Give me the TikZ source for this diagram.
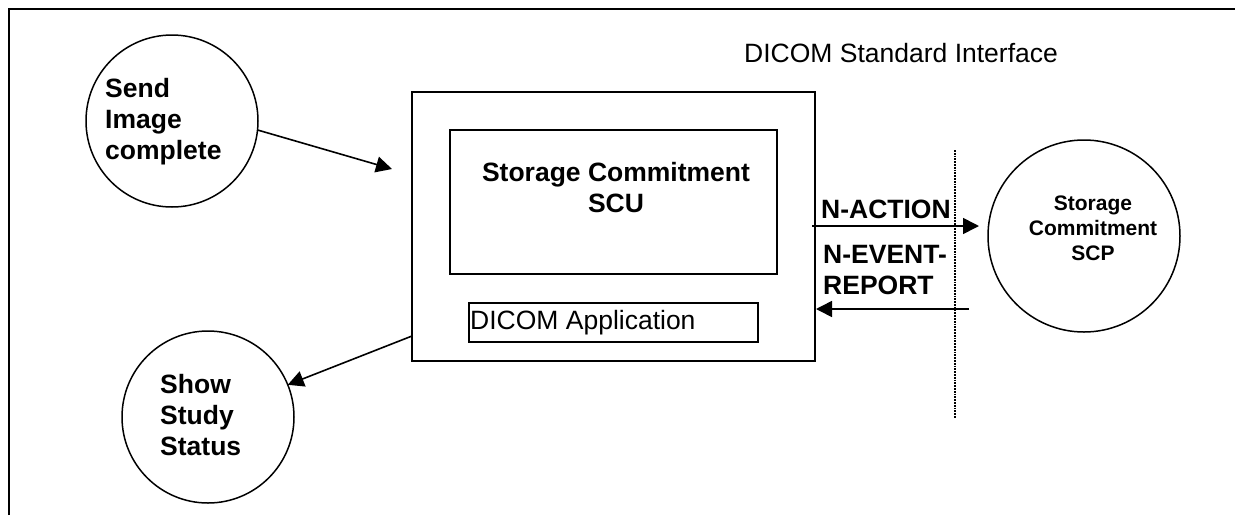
\documentclass[tikz,border=0pt]{standalone}
\usepackage{fontspec}
\setmainfont{Liberation Sans}
\usetikzlibrary{arrows.meta}
\newcommand{\lineColor}{black}
\newcommand{\cRadius}{172pt}
\tikzset{frameLine/.style = {\lineColor, line width=1.8pt}}
\tikzset{boxNode/.style = {draw=\lineColor, line width=1.8pt, inner sep=0pt, outer sep=0pt}}
\tikzset{circleNode/.style = {circle, draw=\lineColor, line width=1.5pt, minimum size=\cRadius, inner sep=0pt, outer sep=0pt}}
\tikzset{boldLabel/.style = {inner sep=0pt, font=\fontsize{26.5}{31}\selectfont\bfseries}}
\tikzset{smallLabel/.style = {inner sep=0pt, align=center, font=\fontsize{21}{25}\selectfont\bfseries}}
\tikzset{plainLabel/.style = {inner sep=0pt, font=\fontsize{26.5}{31}\selectfont}}
\tikzset{msgArrow/.style = {\lineColor, line width=1.6pt, -{Triangle[length=16pt,width=16pt]}}}

\begin{document}
\begin{tikzpicture}[x=1pt,y=-1pt]
    \useasboundingbox (0,0) rectangle (1235,515);

    \coordinate (frameA) at (9,515);
    \coordinate (frameB) at (9,9);
    \coordinate (frameC) at (1235,9);
    \draw[frameLine] (frameA) -- (frameB) -- (frameC);

    % boxes
    \node[boxNode, minimum width=403pt, minimum height=269pt] (outerBox) at (613.5,226.5) {};
    \node[boxNode, line width=1.4pt, minimum width=327pt, minimum height=144pt] (scuBox) at (613.5,202) {};
    \node[boxNode, line width=1.4pt, minimum width=289pt, minimum height=39pt] (appBox) at (613.5,322.5) {};

    % circles
    \node[circleNode] (sendCircle) at (172,121) {};
    \node[circleNode] (showCircle) at (208,417) {};
    \node[circleNode, minimum size=192pt] (scpCircle) at (1084,236) {};

    % labels
    \node[boldLabel, align=left, anchor=west] (sendText) at (105,122) {Send\\Image\\complete};
    \node[boldLabel, align=left, anchor=west] (showText) at (160,415) {Show\\Study\\Status};
    \node[boldLabel, align=center] (scuText) at (616,188) {Storage Commitment\\SCU};
    \node[smallLabel] (scpText) at (1093,228) {Storage\\Commitment\\SCP};
    \node[plainLabel, anchor=west] (appText) at (470,323) {DICOM Application};
    \node[plainLabel, anchor=west] (ifaceText) at (744,53) {DICOM Standard Interface};
    \node[boldLabel, anchor=west] (actionText) at (821,209) {N-ACTION};
    \node[boldLabel, align=left, anchor=west] (eventText) at (823,270) {N-EVENT-\\REPORT};

    % connectors
    \coordinate (sendEnd) at (392,169);
    \coordinate (showStart) at (412,336);
    \coordinate (actionStart) at (812,226);
    \coordinate (actionEnd) at (979,226);
    \coordinate (eventStart) at (969,309);
    \coordinate (eventEnd) at (816,309);
    \coordinate (ifaceTop) at (955,150);
    \coordinate (ifaceBottom) at (955,418);

    \draw[msgArrow] (sendCircle.-6) -- (sendEnd);
    \draw[msgArrow] (showStart) -- (showCircle.22);
    \draw[msgArrow] (actionStart) -- (actionEnd);
    \draw[msgArrow] (eventStart) -- (eventEnd);
    \draw[\lineColor, line width=1.8pt, densely dotted] (ifaceTop) -- (ifaceBottom);
\end{tikzpicture}
\end{document}
